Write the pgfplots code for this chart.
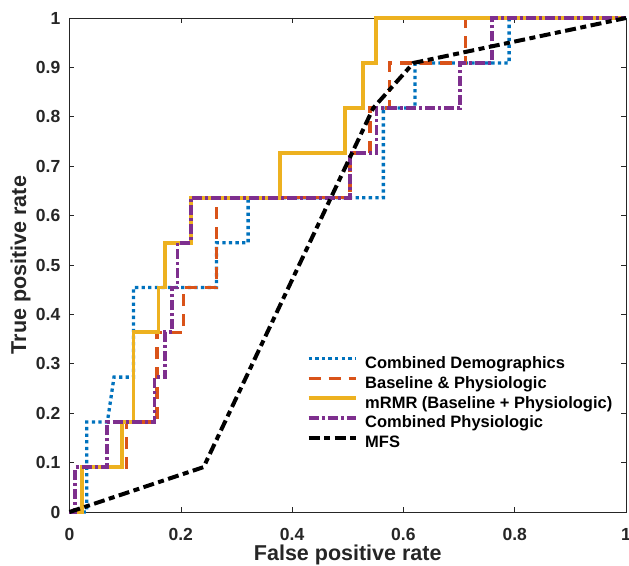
\documentclass[border=0pt]{standalone}
\usepackage{fontspec}
\setmainfont{Liberation Sans}
\usepackage{pgfplots}
\pgfplotsset{compat=1.18}

\definecolor{mblue}{rgb}{0,0.447,0.741}
\definecolor{morange}{rgb}{0.850,0.325,0.098}
\definecolor{myellow}{rgb}{0.929,0.694,0.125}
\definecolor{mpurple}{rgb}{0.494,0.184,0.556}
\definecolor{axgray}{rgb}{0.15,0.15,0.15}

\begin{document}
\begin{tikzpicture}
\begin{axis}[
  scale only axis, width=556.5bp, height=494bp,
  xmin=0, xmax=1, ymin=0, ymax=1,
  xtick={0,0.2,0.4,0.6,0.8,1},
  ytick={0,0.1,0.2,0.3,0.4,0.5,0.6,0.7,0.8,0.9,1},
  tick align=inside, major tick length=5bp,
  axis line style={line width=0.6bp, draw=axgray},
  tick style={line width=0.6bp, draw=axgray},
  clip=false,
  /pgf/number format/assume math mode=true,
  tick label style={font=\fontsize{17.5bp}{20bp}\selectfont\bfseries, text=axgray},
  xticklabel style={anchor=base, inner sep=0pt, yshift=-28bp},
  yticklabel style={anchor=east, inner sep=0pt, xshift=-9bp},
  xlabel={False positive rate}, ylabel={True positive rate},
  label style={font=\fontsize{21.5bp}{25bp}\selectfont\bfseries, text=axgray},
  xlabel style={at={(axis description cs:0.5,-0.0972)}, anchor=base},
  ylabel style={at={(axis description cs:-0.078,0.5)}, anchor=base},
  legend style={at={(axis description cs:0.4262,0.3166)}, anchor=north west,
    draw=none, fill=none, inner sep=0pt, outer sep=0pt, row sep=2.75bp,
    font=\fontsize{16.5bp}{19bp}\selectfont\bfseries,
    nodes={inner sep=0pt, text height=13bp, text depth=4bp},
    /tikz/every odd column/.append style={column sep=7.5bp}},
  legend cell align=left,
  legend image code/.code={\draw[#1] (0bp,5.5bp) -- (47bp,5.5bp);},
]
% Combined Demographics
\addplot[mblue, line width=3.3bp, dash pattern=on 3.3bp off 3.3bp] coordinates {
(0,0) (0.031,0) (0.031,0.182) (0.068,0.182) (0.080,0.273) (0.115,0.273)
(0.115,0.4545) (0.264,0.4545) (0.264,0.545) (0.321,0.545) (0.321,0.636)
(0.564,0.636) (0.564,0.818) (0.621,0.818) (0.621,0.909) (0.790,0.909)
(0.790,1) (1,1)};
% Baseline & Physiologic
\addplot[morange, line width=3.3bp, dash pattern=on 12bp off 8bp] coordinates {
(0,0) (0.022,0) (0.022,0.091) (0.103,0.091) (0.103,0.182) (0.157,0.182)
(0.157,0.364) (0.205,0.364) (0.205,0.4545) (0.264,0.4545) (0.264,0.636)
(0.504,0.636) (0.504,0.727) (0.540,0.727) (0.540,0.818) (0.575,0.818)
(0.575,0.909) (0.712,0.909) (0.712,1) (1,1)};
% mRMR
\addplot[myellow, line width=3.8bp] coordinates {
(0,0) (0.022,0) (0.022,0.091) (0.094,0.091) (0.094,0.182) (0.115,0.182)
(0.115,0.364) (0.160,0.364) (0.160,0.4545) (0.172,0.4545) (0.172,0.545)
(0.218,0.545) (0.218,0.636) (0.378,0.636) (0.378,0.727) (0.495,0.727)
(0.495,0.818) (0.528,0.818) (0.528,0.909) (0.551,0.909) (0.551,1) (1,1)};
% Combined Physiologic
\addplot[mpurple, line width=3.5bp, dash pattern=on 10bp off 3bp on 3bp off 3bp] coordinates {
(0,0) (0.010,0) (0.010,0.091) (0.067,0.091) (0.067,0.182) (0.153,0.182)
(0.153,0.273) (0.172,0.273) (0.172,0.364) (0.184,0.364) (0.184,0.4545)
(0.194,0.4545) (0.194,0.545) (0.218,0.545) (0.218,0.636) (0.504,0.636)
(0.504,0.727) (0.552,0.727) (0.552,0.818) (0.702,0.818) (0.702,0.909)
(0.759,0.909) (0.759,1) (1,1)};
% MFS
\addplot[black, line width=4bp, dash pattern=on 11bp off 4.5bp on 6bp off 4.5bp] coordinates {
(0,0) (0.241,0.0909) (0.546,0.818) (0.618,0.909) (1,1)};
\legend{Combined Demographics, Baseline \& Physiologic,
  mRMR (Baseline + Physiologic), Combined Physiologic, MFS}
\coordinate (ll) at (rel axis cs:0,0);
\coordinate (ur) at (rel axis cs:1,1);
\end{axis}
\pgfresetboundingbox
\path ([shift={(-69.5bp,-54bp)}]ll) rectangle ([shift={(3bp,18bp)}]ur);
\end{tikzpicture}
\end{document}
